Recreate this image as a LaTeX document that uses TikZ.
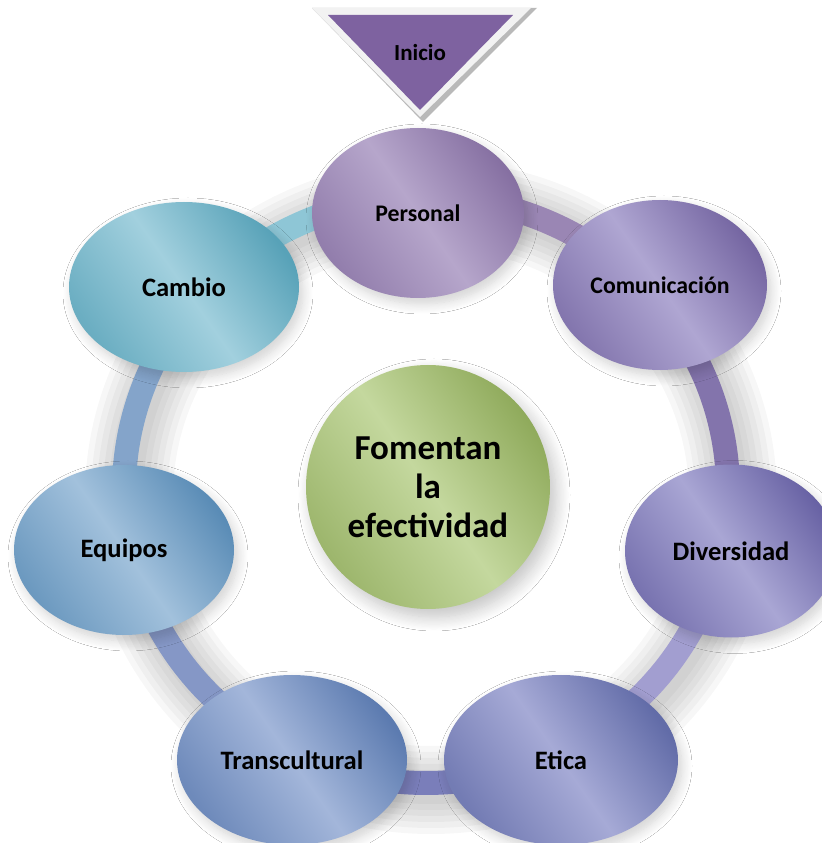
\documentclass[tikz,border=0pt]{standalone}
\usepackage{fontspec}
\setmainfont{Carlito}
\usepackage{xcolor}
\usetikzlibrary{shapes.geometric, shadows.blur, backgrounds}

% petal fills (light / dark)
\definecolor{persL}{HTML}{B6A6CB}\definecolor{persD}{HTML}{8670A2}
\definecolor{comuL}{HTML}{AFA6D2}\definecolor{comuD}{HTML}{7566A2}
\definecolor{diveL}{HTML}{A9A6D4}\definecolor{diveD}{HTML}{6862A4}
\definecolor{eticL}{HTML}{A6AAD6}\definecolor{eticD}{HTML}{626CA8}
\definecolor{tranL}{HTML}{A3B6DA}\definecolor{tranD}{HTML}{5C7BB0}
\definecolor{equiL}{HTML}{A2C1DC}\definecolor{equiD}{HTML}{5A8CB6}
\definecolor{cambL}{HTML}{A2D0DE}\definecolor{cambD}{HTML}{58A2B8}
\definecolor{coreL}{HTML}{C4D89E}\definecolor{coreD}{HTML}{8FAA5B}
\definecolor{iniP}{HTML}{7E62A0}
% ring pieces
\definecolor{rCamPer}{HTML}{8EC6D6}
\definecolor{rEquCam}{HTML}{84A4CA}
\definecolor{rTraEqu}{HTML}{8597C6}
\definecolor{rEtiTra}{HTML}{7A7EBA}
\definecolor{rDivEti}{HTML}{A29ED0}
\definecolor{rComDiv}{HTML}{8374AC}
\definecolor{rPerCom}{HTML}{9A86B4}

\begin{document}
\begin{tikzpicture}[
  x=0.5pt, y=0.5pt,
  petal/.style n args={3}{ellipse, minimum width=#1, minimum height=85pt, inner sep=0pt,
    top color=#3, bottom color=#3!75!#2, middle color=#2, shading angle=-55,
    blur shadow={shadow xshift=2pt, shadow yshift=-3pt, shadow blur radius=5pt,
      shadow blur steps=12, shadow opacity=18},
    font=\fontsize{13.3}{16}\selectfont\bfseries},
  small/.style={font=\fontsize{11.9}{14}\selectfont\bfseries},
  corebox/.style={circle, minimum size=122pt, inner sep=0pt, align=center,
    top color=coreD, bottom color=coreD!75!coreL, middle color=coreL, shading angle=-55,
    blur shadow={shadow xshift=3pt, shadow yshift=-4pt, shadow blur radius=7pt,
      shadow blur steps=12, shadow opacity=24},
    font=\fontsize{17.5}{19.5}\selectfont\bfseries},
  ringarc/.style={line width=12pt, draw=#1}
]
\useasboundingbox (0,0) rectangle (822,843);
\coordinate (ringc) at (426,353);

\node[corebox] (core) at (428,356) {Fomentan\\la\\efectividad};

\node[petal={106pt}{persL}{persD}, small] (pers) at (418,630) {Personal};
\node[petal={107pt}{comuL}{comuD}, small] (comu) at (660,558) {Comunicación};
\node[petal={106pt}{diveL}{diveD}, minimum height=86.5pt] (dive) at (731,292) {Diversidad};
\node[petal={117pt}{eticL}{eticD}] (etic) at (561,83) {Etica};
\node[petal={115pt}{tranL}{tranD}] (tran) at (292,83) {Transcultural};
\node[petal={110pt}{equiL}{equiD}] (equi) at (124,293) {Equipos};
\node[petal={115pt}{cambL}{cambD}] (camb) at (184,556) {Cambio};

% start marker
\fill[gray!55] (312,835) -- (537,835) -- (423,721) -- cycle;
\fill[gray!10] (312,835) -- (531,835) -- (420,726) -- cycle;
\fill[iniP] (328,828) -- (513,828) -- (420,733) -- cycle;
\node[small, font=\fontsize{11.5}{14}\selectfont\bfseries] (ini) at (420,790) {Inicio};

% ring behind the petals
\begin{scope}[on background layer]
  \fill[white] (0,0) rectangle (822,843);
  \foreach \w in {44,38,...,14}
    \draw[black, opacity=0.03, line width=\w pt] ([shift={(5,-7)}]ringc) ellipse[x radius=302, y radius=293];
  \foreach \a/\b/\c in {92/140/rCamPer, 140/191/rEquCam, 191/244/rTraEqu, 244/297/rEtiTra,
                        297/349/rDivEti, 349/401/rComDiv, 401/452/rPerCom}
    \draw[ringarc=\c] ([shift={(\a:302 and 293)}]ringc) arc[start angle=\a, end angle=\b, x radius=302, y radius=293];
\end{scope}
\end{tikzpicture}
\end{document}
